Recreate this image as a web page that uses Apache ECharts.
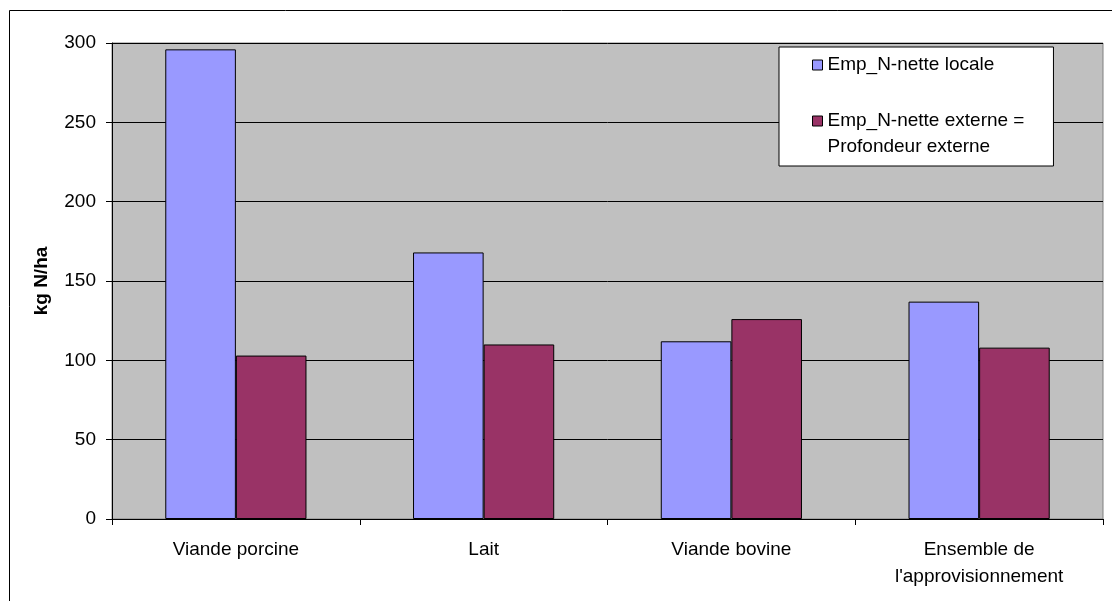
<!DOCTYPE html>
<html>
<head>
<meta charset="utf-8">
<script src="https://cdn.jsdelivr.net/npm/echarts@6/dist/echarts.min.js"></script>
<style>
  html, body { margin: 0; padding: 0; background: #fff; }
  #chart { width: 1112px; height: 601px; }
</style>
</head>
<body>
<div id="chart"></div>
<script>
const categories = ['Viande porcine', 'Lait', 'Viande bovine', 'Ensemble de\nl\'approvisionnement'];
const seriesNames = ['Emp_N-nette locale', 'Emp_N-nette externe =\nProfondeur externe'];
const locale = [296, 168, 112, 137];
const externe = [103, 110, 126, 108];
const yTicks = { min: 0, max: 300, interval: 50 };

const font = 'Liberation Sans, Arial, sans-serif';

const chart = echarts.init(document.getElementById('chart'));

const option = {
  animation: false,
  backgroundColor: '#fff',
  textStyle: { fontFamily: font },
  graphic: [{
    type: 'rect',
    shape: { x: 9.5, y: 10.5, width: 1120, height: 620 },
    style: { fill: 'none', stroke: '#000', lineWidth: 1 },
    silent: true
  }],
  grid: {
    left: 112, top: 43, right: 9, bottom: 82,
    show: true,
    backgroundColor: '#C0C0C0',
    borderColor: '#808080',
    borderWidth: 1
  },
  legend: {
    orient: 'vertical',
    left: 779, top: 47,
    itemWidth: 10, itemHeight: 10,
    itemGap: 4,
    padding: [5, 29, 6, 33],
    backgroundColor: '#fff',
    borderColor: '#000',
    borderWidth: 1,
    icon: 'rect',
    itemStyle: { borderColor: '#000', borderWidth: 1 },
    textStyle: { fontFamily: font, fontSize: 19, color: '#000', lineHeight: 26 },
    // blank first line keeps the marker level with the first text line
    formatter: name => (name.indexOf('\n') >= 0 ? '\n' + name : name)
  },
  xAxis: {
    type: 'category',
    data: categories,
    axisLine: { lineStyle: { color: '#000', width: 1 } },
    axisTick: { show: true, length: 6, lineStyle: { color: '#000' } },
    axisLabel: { color: '#000', fontSize: 19, margin: 17, lineHeight: 27, fontFamily: font }
  },
  yAxis: {
    type: 'value',
    min: yTicks.min, max: yTicks.max, interval: yTicks.interval,
    name: 'kg N/ha',
    nameLocation: 'middle',
    nameGap: 61,
    nameTextStyle: { color: '#000', fontSize: 19, fontWeight: 'bold', fontFamily: font },
    axisLine: { show: true, lineStyle: { color: '#000', width: 1 } },
    axisTick: { show: true, length: 6, lineStyle: { color: '#000' } },
    axisLabel: { color: '#000', fontSize: 19, margin: 16, fontFamily: font },
    splitLine: { lineStyle: { color: '#000', width: 1 } }
  },
  series: [
    {
      name: seriesNames[0],
      type: 'bar',
      data: locale,
      barGap: '0%',
      barCategoryGap: '43%',
      itemStyle: { color: '#9999FF', borderColor: '#000', borderWidth: 1 }
    },
    {
      name: seriesNames[1],
      type: 'bar',
      data: externe,
      itemStyle: { color: '#993366', borderColor: '#000', borderWidth: 1 }
    }
  ]
};

chart.setOption(option);
</script>
</body>
</html>
